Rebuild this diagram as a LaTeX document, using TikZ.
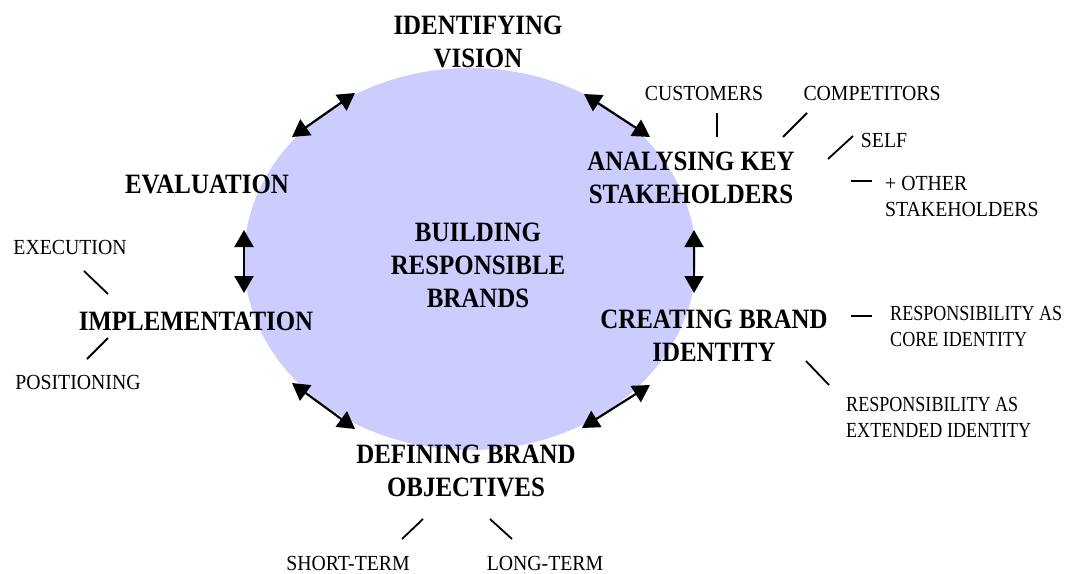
\documentclass[tikz,border=0pt]{standalone}
\usepackage{fontspec}
\setmainfont{Liberation Serif}
\newfontfamily\bigfont[FakeStretch=0.89]{Liberation Serif}
\newfontfamily\smallfont[FakeStretch=0.92]{Liberation Serif}
\newfontfamily\narrowfont[FakeStretch=0.84]{Liberation Serif}
\usetikzlibrary{arrows.meta}
\definecolor{lav}{HTML}{CCCCFF}
\tikzset{
  big/.style={font=\bigfont\bfseries\fontsize{28}{33}\selectfont, align=center, inner sep=0pt},
  small/.style={font=\smallfont\fontsize{21.5}{26}\selectfont, inner sep=0pt},
  narrow/.style={font=\narrowfont\fontsize{21.5}{26}\selectfont, inner sep=0pt, anchor=west, align=left},
  twoway/.style={line width=2.2pt, {Triangle[length=17pt,width=19pt]}-{Triangle[length=17pt,width=19pt]}},
  tick/.style={line width=1.8pt}
}
\begin{document}
\begin{tikzpicture}[x=1pt,y=-1pt]
\useasboundingbox (0,0) rectangle (1065,573);
\fill[lav] (470,259) ellipse [x radius=226, y radius=191];

% main labels
\node[big] (main) at (478,265) {BUILDING\\RESPONSIBLE\\BRANDS};
\node[big] (vision) at (478,42) {IDENTIFYING\\VISION};
\node[big] (eval) at (207,184) {EVALUATION};
\node[big] (impl) at (196,321) {IMPLEMENTATION};
\node[big] (anal) at (691,178) {ANALYSING KEY\\STAKEHOLDERS};
\node[big] (creat) at (714,336) {CREATING BRAND\\IDENTITY};
\node[big] (defin) at (466,471) {DEFINING BRAND\\OBJECTIVES};

% small labels
\node[small] (cust) at (704,93) {CUSTOMERS};
\node[small] (comp) at (872,93) {COMPETITORS};
\node[small] (self) at (884,140) {SELF};
\node[small, anchor=west, align=left] (other) at (885,196) {+ OTHER\\STAKEHOLDERS};
\node[narrow] (core) at (890,326) {RESPONSIBILITY AS\\CORE IDENTITY};
\node[narrow] (ext) at (846,417) {RESPONSIBILITY AS\\EXTENDED IDENTITY};
\node[small] (exec) at (70,247) {EXECUTION};
\node[small] (posi) at (78,382) {POSITIONING};
\node[small] (short) at (348,563) {SHORT-TERM};
\node[small] (long) at (545,563) {LONG-TERM};

% arrow end points
\coordinate (a1s) at (292,137); \coordinate (a1e) at (355,93);
\coordinate (a2s) at (584,94);  \coordinate (a2e) at (650,137);
\coordinate (a3s) at (694,230); \coordinate (a3e) at (694,293);
\coordinate (a4s) at (650,385); \coordinate (a4e) at (582,428);
\coordinate (a5s) at (355,429); \coordinate (a5e) at (292,383);
\coordinate (a6s) at (244,293); \coordinate (a6e) at (244,230);
\foreach \i in {1,...,6} {\draw[twoway] (a\i s) -- (a\i e);}

% tick lines
\coordinate (t1a) at (717,113); \coordinate (t1b) at (717,137);
\coordinate (t2a) at (783,137); \coordinate (t2b) at (807,113);
\coordinate (t3a) at (828,159); \coordinate (t3b) at (853,136);
\coordinate (t4a) at (851,181); \coordinate (t4b) at (872,181);
\coordinate (t5a) at (851,316); \coordinate (t5b) at (872,316);
\coordinate (t6a) at (806,361); \coordinate (t6b) at (829,385);
\coordinate (t7a) at (423,519); \coordinate (t7b) at (402,539);
\coordinate (t8a) at (490,519); \coordinate (t8b) at (512,539);
\coordinate (t9a) at (84,271);  \coordinate (t9b) at (108,294);
\coordinate (t10a) at (108,338); \coordinate (t10b) at (87,359);
\foreach \i in {1,...,10} {\draw[tick] (t\i a) -- (t\i b);}
\end{tikzpicture}
\end{document}
